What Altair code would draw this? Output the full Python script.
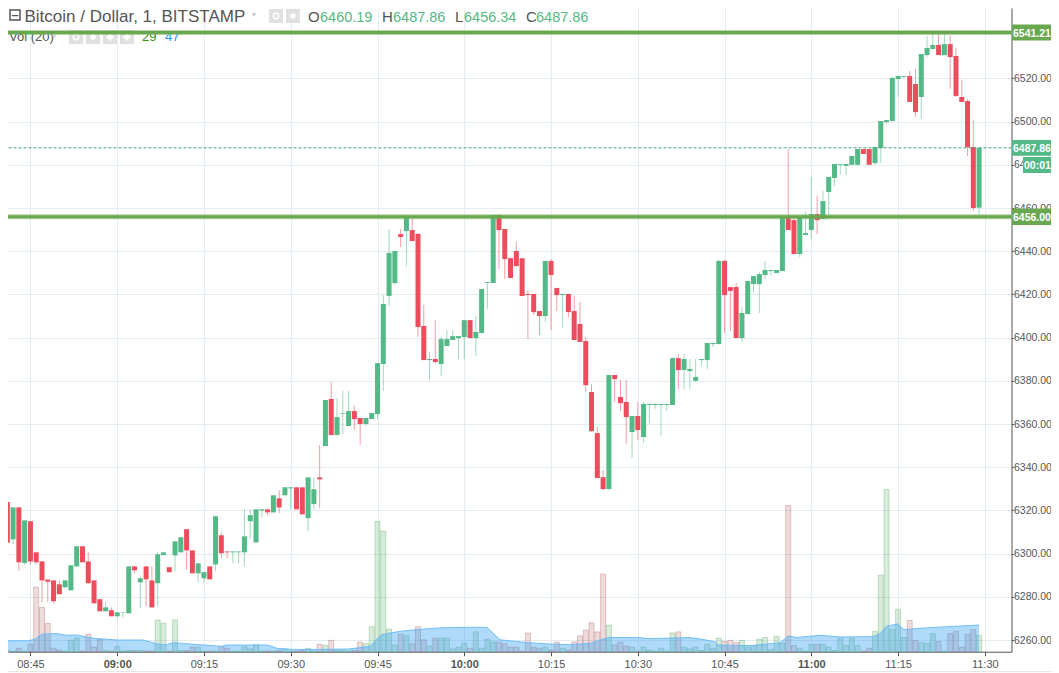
import altair as alt
import pandas as pd

opens = [
    6290.5,6323.9,6306.6,6321.4,6295.7,6315.0,6300.6,6296.4,6288.0,6287.6,
    6285.8,6284.4,6283.0,6294.1,6303.4,6296.4,6287.6,6278.9,6273.3,6273.8,
    6271.0,6272.6,6272.4,6294.1,6286.7,6294.1,6287.6,6286.3,6299.3,6293.7,
    6299.2,6300.6,6311.3,6301.5,6290.9,6288.6,6294.1,6295.0,6308.5,6301.0,
    6300.6,6300.6,6300.6,6315.0,6305.2,6320.0,6320.5,6319.1,6325.6,6327.0,
    6330.2,6330.7,6330.7,6316.4,6323.0,6335.3,6349.8,6371.6,6354.9,6364.7,
    6359.1,6366.0,6362.8,6360.0,6362.3,6364.6,6387.8,6419.3,6425.3,6447.9,
    6449.3,6449.8,6448.0,6405.4,6389.6,6390.1,6387.8,6396.1,6398.9,6399.8,
    6400.3,6408.1,6399.8,6402.1,6425.3,6425.3,6456.8,6450.3,6436.8,6440.1,
    6436.8,6420.2,6420.2,6412.3,6410.0,6435.5,6423.0,6419.7,6420.2,6412.3,
    6406.3,6398.4,6374.8,6355.8,6335.4,6329.9,6382.7,6372.5,6370.2,6356.3,
    6363.7,6354.0,6368.8,6368.8,6368.8,6368.8,6368.8,6390.5,6385.0,6384.5,
    6380.0,6389.6,6389.6,6397.0,6397.0,6435.5,6423.4,6423.4,6399.8,6410.9,
    6424.8,6424.8,6429.0,6430.8,6429.9,6430.8,6456.3,6454.4,6438.7,6447.5,
    6449.8,6457.2,6454.9,6467.4,6473.9,6480.0,6479.5,6480.0,6480.0,6487.3,
    6487.3,6480.8,6487.8,6499.8,6500.3,6519.7,6520.7,6521.1,6517.4,6511.4,
    6530.8,6533.6,6535.5,6530.8,6535.9,6530.4,6511.4,6509.5,6488.2,6460.19,
]
closes = [
    6323.3,6305.0,6321.4,6296.0,6315.4,6296.4,6296.0,6287.6,6287.0,6278.0,
    6281.2,6287.6,6294.6,6303.4,6296.0,6286.3,6277.0,6273.3,6275.1,6271.0,
    6272.8,6272.8,6294.1,6292.3,6288.6,6288.1,6275.1,6299.7,6300.6,6291.4,
    6305.7,6307.6,6301.5,6290.9,6295.5,6291.4,6288.1,6317.3,6300.2,6300.6,
    6301.0,6301.0,6308.0,6317.8,6320.5,6320.5,6319.1,6327.0,6321.4,6330.7,
    6330.7,6320.5,6318.2,6335.3,6329.8,6334.4,6371.1,6354.9,6363.2,6365.0,
    6366.0,6362.3,6360.0,6362.8,6365.1,6388.2,6415.6,6439.2,6440.1,6446.6,
    6456.0,6444.7,6404.9,6389.6,6390.1,6388.7,6399.3,6399.3,6400.7,6400.7,
    6408.1,6399.8,6402.6,6422.5,6425.7,6456.8,6449.8,6436.4,6427.6,6433.1,
    6419.3,6419.7,6411.8,6410.0,6435.5,6429.0,6419.7,6420.2,6411.8,6398.9,
    6398.0,6378.0,6356.7,6335.0,6329.9,6382.7,6380.8,6369.7,6363.2,6363.7,
    6357.2,6369.3,6369.3,6369.3,6369.3,6369.3,6390.5,6385.0,6390.1,6385.5,
    6381.8,6390.1,6397.5,6397.5,6435.5,6419.7,6421.6,6399.8,6411.4,6426.2,
    6428.5,6429.4,6431.3,6431.3,6431.3,6456.3,6449.8,6438.7,6456.3,6448.4,
    6457.2,6454.4,6463.2,6474.4,6480.4,6480.4,6480.4,6484.1,6487.3,6485.0,
    6480.0,6488.2,6500.3,6500.7,6520.2,6521.1,6521.1,6509.1,6504.4,6531.3,
    6534.1,6535.5,6530.8,6535.9,6529.9,6511.9,6509.1,6488.2,6460.0,6487.86,
]
highs = [
    6323.3,6328.0,6321.4,6321.4,6315.4,6315.0,6300.6,6296.4,6288.0,6287.6,
    6287.6,6287.6,6294.6,6303.4,6303.4,6300.6,6287.6,6278.9,6277.5,6275.1,
    6272.8,6272.8,6294.1,6294.1,6289.5,6294.1,6294.1,6300.6,6300.6,6293.7,
    6305.7,6307.6,6311.3,6301.5,6295.5,6291.4,6294.1,6317.3,6309.9,6301.0,
    6301.0,6301.0,6320.5,6320.5,6320.5,6320.5,6320.5,6327.0,6329.3,6330.7,
    6330.7,6330.7,6330.7,6335.3,6335.3,6350.3,6371.1,6379.4,6372.0,6375.3,
    6375.3,6368.3,6362.8,6362.8,6365.1,6388.2,6419.7,6450.3,6440.1,6450.3,
    6457.0,6455.4,6448.4,6415.1,6393.3,6408.1,6400.3,6403.5,6403.5,6400.7,
    6408.1,6408.1,6410.0,6422.5,6425.7,6456.8,6456.8,6450.3,6436.8,6444.3,
    6436.8,6422.0,6420.2,6412.3,6435.5,6436.4,6423.0,6420.2,6420.2,6419.3,
    6416.5,6400.3,6378.5,6358.6,6338.7,6382.7,6382.7,6380.4,6380.4,6363.7,
    6370.2,6370.2,6369.3,6369.3,6369.3,6369.3,6391.0,6392.4,6392.4,6390.1,
    6390.1,6390.1,6397.5,6397.5,6436.0,6436.0,6423.4,6425.3,6414.2,6426.2,
    6428.5,6430.4,6435.5,6431.3,6431.3,6456.3,6487.3,6456.3,6456.3,6458.2,
    6474.4,6465.6,6467.9,6474.4,6480.4,6480.4,6480.4,6484.1,6487.3,6487.3,
    6487.3,6488.2,6500.3,6500.7,6520.8,6521.1,6521.1,6523.4,6524.4,6531.3,
    6539.6,6541.9,6541.9,6541.9,6540.0,6534.1,6519.3,6510.5,6500.7,6487.86,
]
lows = [
    6290.5,6296.0,6304.3,6292.0,6294.6,6295.0,6295.0,6277.6,6277.6,6277.0,
    6281.2,6284.4,6283.0,6294.1,6296.0,6286.3,6277.0,6273.3,6273.3,6271.0,
    6270.5,6270.5,6272.4,6290.9,6274.7,6275.6,6275.1,6275.6,6299.3,6291.4,
    6291.8,6300.6,6292.7,6290.9,6286.7,6286.7,6288.1,6291.8,6297.8,6297.8,
    6295.5,6295.5,6294.1,6307.0,6305.2,6316.8,6317.7,6319.1,6318.7,6327.0,
    6320.5,6320.5,6318.2,6310.3,6320.5,6321.0,6349.8,6354.9,6354.9,6355.4,
    6359.1,6357.2,6350.3,6359.2,6362.3,6362.3,6375.3,6414.6,6424.3,6442.0,
    6433.1,6444.7,6400.3,6389.6,6380.4,6388.0,6382.2,6396.1,6398.9,6390.1,
    6390.1,6399.8,6391.5,6402.1,6413.2,6425.3,6431.8,6427.1,6427.6,6433.1,
    6419.3,6399.3,6410.5,6401.2,6407.2,6403.5,6412.3,6404.4,6409.5,6398.9,
    6398.0,6374.8,6356.3,6335.0,6329.4,6329.4,6370.2,6366.0,6350.7,6344.2,
    6352.6,6351.2,6360.5,6367.0,6354.4,6366.0,6368.8,6376.2,6376.2,6376.2,
    6379.5,6386.8,6385.5,6395.6,6397.0,6402.1,6403.0,6399.8,6398.0,6410.9,
    6421.1,6411.4,6427.1,6428.5,6429.9,6430.8,6449.8,6438.7,6437.2,6447.5,
    6445.8,6448.0,6454.9,6455.2,6470.2,6475.3,6475.3,6480.0,6480.0,6485.0,
    6480.0,6480.0,6480.8,6499.0,6500.3,6511.4,6520.0,6509.1,6502.1,6501.2,
    6529.9,6533.6,6530.8,6530.8,6515.1,6511.4,6509.1,6484.1,6458.6,6457.2,
]
volumes = [
    18,2,1,6,1,13,114,78,50,6,
    3,1,20,24,1,31,8,22,2,1,
    9,1,2,2,2,1,1,56,50,1,
    56,2,2,8,8,1,1,1,9,6,
    1,1,9,5,13,1,1,1,2,5,
    1,1,2,6,1,13,11,20,4,2,
    1,2,17,14,44,230,213,40,12,31,
    28,14,44,21,10,24,24,24,5,8,
    15,6,35,6,22,17,17,14,8,8,
    1,33,8,6,8,3,17,6,3,17,
    28,38,51,35,137,47,12,17,10,8,
    1,8,3,1,6,1,33,35,8,5,
    8,2,13,6,24,18,20,16,20,8,
    11,22,25,4,27,15,258,11,6,1,
    13,13,13,8,2,24,11,24,11,1,
    6,36,135,286,39,75,25,55,20,16,
    15,32,18,1,32,36,8,31,39,29,
]
ma_minutes = [0,4.6,5.8,7,9.5,11.3,13,16,20,24.5,26.8,28.5,29.7,32,35,38,39,42,46,47.6,50.5,55,60,
              63.7,65.7,66.6,69,71.8,75.8,80.4,83.9,86.2,89,90.8,94.8,98.3,101.8,103.5,105,110,112,115.6,119,121,
              123.3,123.9,129.4,134.6,136,137.5,141.5,145,150.7,151.9,153,154.9,156,160,163.4,169]
ma_values = [19.4,19.4,22,31,32,29,29.4,23.5,20.6,20.6,14,12,16,14,11.8,9.4,11.8,11.8,11.8,5.9,4,4,4.7,
             9.4,30,32,36,39,42,43,43,21,18,16,13.5,12.4,14.7,21,25,25,23,24,25,22,
             17.6,11.8,10.6,16,27.6,25,29,26,26.5,32,45,49,39,42,44,47]
tick_minutes = [5,20,35,50,65,80,95,110,125,140,155,170]
tick_labels = ["08:45","09:00","09:15","09:30","09:45","10:00","10:15","10:30","10:45","11:00","11:15","11:30"]
hour_ticks = [20,80,140]
price_ticks = [6260,6280,6300,6320,6340,6360,6380,6400,6420,6440,6460,6480,6500,6520]
levels = [6541.21,6456.00]
last_price = [6487.86]

UP, DOWN = "#53b987", "#eb4d5c"
GRID, AXIS, TXT = "#e4ecf2", "#555555", "#555555"
FONT = "Liberation Sans"
W, H = 1003.5, 643.7
P_MIN, P_MAX = 6254.6, 6552.6
VOL_K = 0.26235

df = pd.DataFrame({"i": range(len(opens)), "o": opens, "h": highs, "l": lows, "c": closes, "vol": volumes})
df["dir"] = ["up" if c >= o else "down" for o, c in zip(opens, closes)]
ma_df = pd.DataFrame({"i": ma_minutes, "v": ma_values})

x_scale = alt.Scale(domain=[1.1236, 174.6], nice=False, zero=False, padding=0)
p_scale = alt.Scale(domain=[P_MIN, P_MAX], nice=False, zero=False)
dir_enc = alt.Scale(domain=["up", "down"], range=[UP, DOWN])
vol_enc = alt.Scale(domain=["up", "down"], range=["#41a050", "#aa5050"])

x_axis = alt.Axis(values=tick_minutes, grid=True, gridColor=GRID, gridWidth=1, title=None,
                  domainColor=AXIS, tickColor=AXIS, tickSize=4, labelColor=TXT, labelFont=FONT,
                  labelFontSize=11, labelPadding=3, labelFlush=False, labelOverlap=False,
                  labelExpr="[" + ",".join(f"'{t}'" for t in tick_labels) + "][(datum.value-5)/15]",
                  labelFontWeight={"condition": {"test": "indexof(%s, datum.value) >= 0" % hour_ticks, "value": "bold"}, "value": "normal"})
y_axis = alt.Axis(orient="right", values=price_ticks, format=".2f", grid=True, gridColor=GRID, gridWidth=1,
                  title=None, domainColor=AXIS, tickColor=AXIS, tickSize=2, labelColor=TXT, labelFont=FONT,
                  labelFontSize=10.5, labelPadding=0, labelOverlap=False)
X = alt.X("i:Q", scale=x_scale, axis=x_axis)
def Y(field):
    return alt.Y(field, scale=p_scale, axis=y_axis)

vol_bars = alt.Chart(df).transform_calculate(base=f"{P_MIN}", pv=f"{P_MIN} + datum.vol * {VOL_K}").mark_bar(
    size=5, fillOpacity=0.2, strokeOpacity=0.3, strokeWidth=1).encode(
    x=X, y=Y("pv:Q"), y2="base:Q",
    fill=alt.Fill("dir:N", scale=vol_enc, legend=None),
    stroke=alt.Stroke("dir:N", scale=vol_enc, legend=None),
)
ma_area = alt.Chart(ma_df).transform_calculate(base=f"{P_MIN}", pv=f"{P_MIN} + datum.v * {VOL_K}").mark_area(
    color="#37a2f2", opacity=0.4, line={"color": "#6fbdf7", "strokeWidth": 1, "opacity": 1}).encode(
    x=X, y=Y("pv:Q"), y2="base:Q",
)
wicks = alt.Chart(df).mark_rule(strokeWidth=1, opacity=0.55).encode(
    x=X, y=Y("l:Q"), y2="h:Q",
    color=alt.Color("dir:N", scale=dir_enc, legend=None),
)
bodies = alt.Chart(df).mark_bar(size=5).encode(
    x=X, y=Y("o:Q"), y2="c:Q",
    color=alt.Color("dir:N", scale=dir_enc, legend=None),
)
last_line = alt.Chart(pd.DataFrame({"v": last_price})).mark_rule(color="#3fa67a", strokeWidth=1, strokeDash=[3, 2]).encode(y=Y("v:Q"))
lv_df = pd.DataFrame({"v": levels})
halo = alt.Chart(lv_df).mark_rule(color="#6aa84f", strokeWidth=5, opacity=0.5).encode(y=Y("v:Q"))
lvl = alt.Chart(lv_df).mark_rule(color="#6aa84f", strokeWidth=3).encode(y=Y("v:Q"))

one = pd.DataFrame({"a": [0]})
def label(text, x, y, color=TXT, size=11, weight="normal", align="left", font=FONT):
    return alt.Chart(pd.DataFrame({"t": [text]})).mark_text(
        font=font, fontSize=size, fontWeight=weight, align=align, baseline="alphabetic", color=color
    ).encode(text="t:N", x=alt.value(x - 8), y=alt.value(y - 8))
def box(x0, x1, y0, y1, color):
    return alt.Chart(one).mark_rect(color=color).encode(
        x=alt.value(x0 - 8), x2=alt.value(x1 - 8), y=alt.value(y0 - 8), y2=alt.value(y1 - 8))
def glyph(shape, x, y, size, color, filled=True):
    return alt.Chart(one).mark_point(shape=shape, size=size, color=color, filled=filled, opacity=1, strokeWidth=1.5).encode(
        x=alt.value(x - 8), y=alt.value(y - 8))

GREY = "#e0e0e0"
header_under = [
    label("Vol (20)", 9, 41, size=13),
    glyph("triangle-down", 54, 37, 18, "#cccccc"),
    box(69, 83, 30, 44, GREY), glyph("circle", 76, 37, 30, "#ffffff", False),
    box(86, 100, 30, 44, GREY), glyph("circle", 93, 37, 30, "#ffffff"),
    box(103, 117, 30, 44, GREY), glyph("cross", 110, 37, 50, "#ffffff"),
    box(120, 134, 30, 44, GREY), glyph("cross", 127, 37, 50, "#ffffff"),
    label("29", 142, 41, "#3b8a0e", 13),
    label("47", 165, 41, "#2196f3", 13),
]
header_over = [
    glyph("square", 15, 15, 100, "#555555", False),
    label("\u2013", 15, 19, "#555555", 13, "bold", "center"),
    label("Bitcoin / Dollar, 1, BITSTAMP", 24.5, 22, size=17),
    glyph("triangle-down", 254, 15, 22, "#cccccc"),
    box(269, 283, 9, 23, GREY), glyph("circle", 276, 16, 30, "#ffffff", False),
    box(286, 300, 9, 23, GREY), glyph("circle", 293, 16, 30, "#ffffff"),
    label("O", 308, 22, size=15),
    label("6460.19", 320, 22, UP, 14.5),
    label("H", 382, 22, size=15),
    label("6487.86", 393, 22, UP, 14.5),
    label("L", 455, 22, size=15),
    label("6456.34", 464, 22, UP, 14.5),
    label("C", 526, 22, size=15),
    label("6487.86", 536, 22, UP, 14.5),
]
tags = [
    box(1012, 1051, 24.5, 40.5, "#6aa84f"), label("6541.21", 1013, 36.5, "#ffffff", 10.5, "bold"),
    box(1012, 1051, 140, 155.7, UP), label("6487.86", 1013, 151.8, "#ffffff", 10.5, "bold"),
    box(1023, 1051, 157, 173, UP), label("00:01", 1024, 169, "#ffffff", 10.5, "bold"),
    box(1012, 1051, 208.5, 225, "#6aa84f"), label("6456.00", 1013, 220.5, "#ffffff", 10.5, "bold"),
]
bottom_rule = alt.Chart(one).mark_rule(color="#e2e2e2", strokeWidth=1).encode(
    x=alt.value(-8), x2=alt.value(1043), y=alt.value(663.7))

chart = alt.layer(
    vol_bars, ma_area, wicks, bodies, *header_under, last_line, halo, lvl, *header_over, *tags, bottom_rule
).properties(
    width=W, height=H,
    autosize=alt.AutoSizeParams(type="none"),
    padding={"left": 0, "top": 0, "right": 39.5, "bottom": 21.3},
    background="#ffffff",
).configure_view(stroke=None)

chart.save("out.html", embed_options={"renderer": "svg", "actions": False})
